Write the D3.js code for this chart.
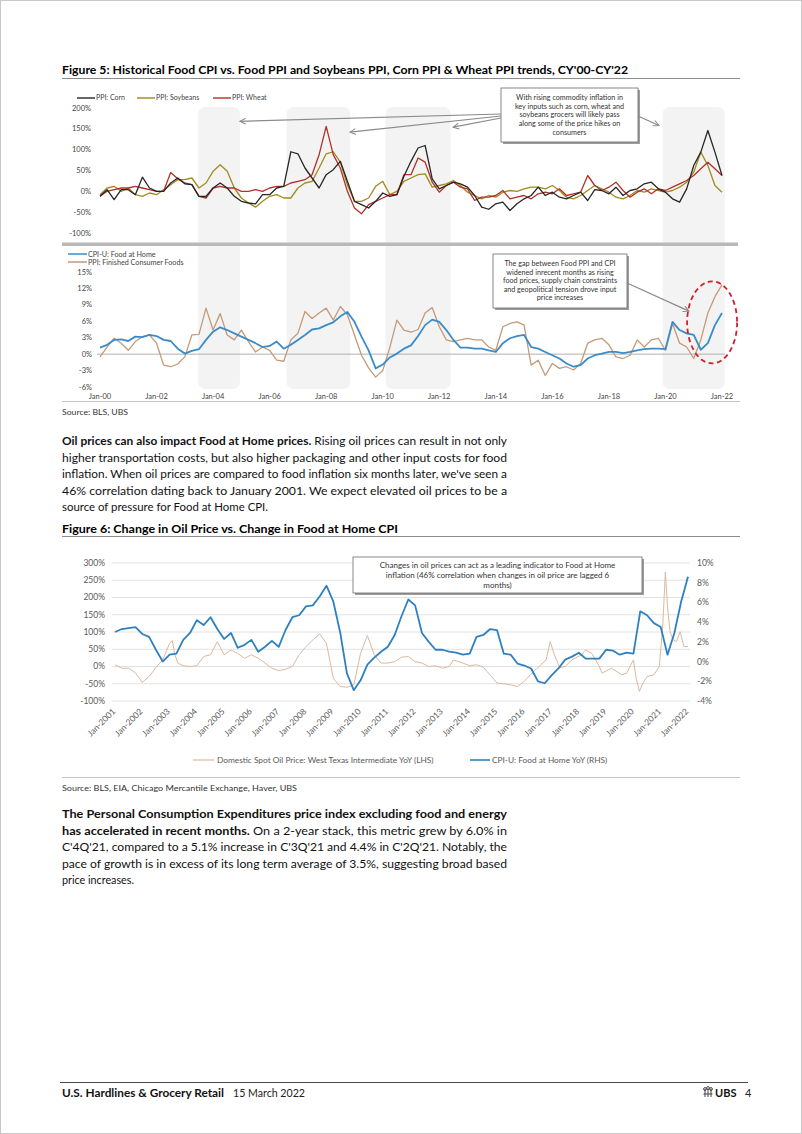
<!DOCTYPE html>
<html><head><meta charset="utf-8">
<script src="https://cdn.jsdelivr.net/npm/d3@7"></script>
<style>
body{margin:0;background:#fff}
svg{display:block}
text{font-family:Lato,"Noto Sans",sans-serif}
</style></head>
<body><svg id="page" width="802" height="1134"></svg>
<script>
// ---------------- DATA ----------------
// Figure 5 (quarterly, Jan-2000 .. Jan-2022)
const fig5Start = 2000, fig5End = 2022;
const ppiCorn = [-12,4,-20,4, 4,-8,34,8, 0,0,20,32, 18,16,-12,-12, 8,20,8,-12, -24,-28,-30,-8, -8,8,12,95, 90,56,32,8, 40,52,72,24, -24,-32,-40,-24, -4,-12,-8,36, 72,104,110,30, 6,14,22,18, 10,-10,-38,-43, -30,-26,-46,-30, -18,-10,10,-10, -2,-14,-18,-10, -2,-22,4,2, -6,10,-10,2, 6,18,22,6, -2,-18,-26,6, 62,94,146,94, 38];
const ppiSoybeans = [-8,8,12,0, 8,-8,-12,-4, -8,4,16,28, 28,32,8,20, 48,64,48,8, -16,-28,-38,-24, -12,-8,-16,-16, 8,20,24,56, 90,95,70,15, -24,-24,-16,12, 24,-8,0,24, 32,40,42,10, 14,18,26,14, -2,-10,-18,-10, -14,-2,2,0, 6,10,10,6, 14,2,-14,-18, -10,2,14,6, -2,-14,-18,-10, 2,-2,6,2, -2,2,10,22, 46,94,62,14, -2];
const ppiWheat = [-12,0,4,8, 8,12,8,4, 0,0,45,30, 20,16,-12,-16, 8,12,8,8, 0,0,4,0, 8,12,12,20, 24,28,40,88, 156,88,56,0, -40,-54,-32,-24, -16,-8,-8,40, 40,80,70,22, -2,14,22,10, 6,-22,-14,-14, -10,2,-18,-14, -10,-18,-6,-2, -6,6,-10,-6, -2,38,14,2, 10,22,2,-14, -2,6,-6,6, 2,10,18,26, 38,54,70,54, 38];
const cpiFoodHome = [1.2,1.7,2.6,2.7, 2.4,3.2,3.1,3.5, 3.3,2.6,2.4,1.0, 0.1,0.6,0.9,2.6, 4.1,4.9,4.4,3.8, 3.2,2.6,2.0,1.3, 1.5,2.3,1.0,1.7, 2.6,3.5,4.5,4.7, 5.3,5.8,6.9,7.7, 5.9,3.2,0.7,-2.6, -1.9,-0.6,0.1,1.0, 1.6,3.3,5.3,6.3, 5.9,4.4,2.6,1.2, 1.2,1.0,1.0,0.7, 0.4,2.0,2.9,3.3, 3.5,1.3,1.0,0.4, -0.2,-0.8,-1.7,-2.3, -2.0,-0.8,-0.2,0.1, 0.4,0.4,0.2,0.4, 0.7,0.9,1.0,1.0, 0.9,5.9,4.4,3.8, 3.5,0.8,2.0,5.3, 7.5];
const ppiFinishedFoods = [-0.5,1.3,2.9,2.0, 0.7,2.3,3.2,3.5, 2.0,-2.0,-2.3,-1.8, -0.5,3.5,3.6,8.4, 4.4,7.4,3.5,2.6, 4.4,2.3,0.4,1.3, 0.7,-1.1,-1.3,2.6, 3.8,7.8,6.5,7.5, 8.4,6.2,8.7,7.2, 3.5,-0.2,-2.5,-4.2, -3.0,1.2,6.2,4.4, 4.0,4.5,7.5,8.5, 5.0,2.6,2.3,2.6, 2.9,2.6,2.6,1.3, 0.7,5.0,5.6,5.9, 5.3,-2.0,-1.1,-3.9, -1.7,-2.6,-2.3,-2.9, -1.7,2.0,2.6,2.9, 1.7,-0.5,-0.8,-0.2, 2.6,1.3,2.6,2.9, 0.7,5.6,2.0,1.3, -0.8,2.6,7.5,10.5, 12.7];
const shadedStart = [2003.47, 2006.6, 2010.1, 2019.9];
const shadedEnd   = [2004.95, 2008.85, 2012.4, 2022.1];
const topTicks = [200,150,100,50,0,-50,-100];
const bottomTicks = [15,12,9,6,3,0,-3,-6];
const fig5XLabels = ["Jan-00","Jan-02","Jan-04","Jan-06","Jan-08","Jan-10","Jan-12","Jan-14","Jan-16","Jan-18","Jan-20","Jan-22"];
const fig5XYears  = [2000,2002,2004,2006,2008,2010,2012,2014,2016,2018,2020,2022];

// Figure 6
const cpiFoodHomeYoY = [3.0,3.3,3.4,3.5, 2.8,2.5,1.2,0.0, 0.7,0.8,2.2,2.9, 4.2,3.7,4.5,3.3, 2.3,2.9,1.4,1.7, 2.2,1.0,1.5,2.1, 1.5,3.2,4.5,4.7, 5.6,5.7,6.6,7.7, 6.1,3.0,-1.2,-2.9, -1.9,-0.3,0.4,1.0, 1.5,2.7,4.6,6.3, 5.7,2.9,2.0,1.2, 1.2,1.0,0.9,0.7, 0.8,2.5,2.7,3.3, 3.2,0.8,0.7,-0.2, -0.4,-0.7,-2.0,-2.2, -1.4,-0.7,0.2,0.5, 0.9,0.3,0.3,0.3, 1.2,1.1,0.7,0.9, 0.8,5.1,4.7,3.9, 3.5,0.7,2.9,6.1, 8.6];
const wtiOilYoY = [[2001.0,5],[2001.25,-5],[2001.5,-5],[2001.75,-19],[2002.0,-46],[2002.25,-29],[2002.5,-3],[2002.75,19],[2003.0,67],[2003.1,75],[2003.18,38],[2003.3,10],[2003.5,2],[2003.75,0],[2004.0,2],[2004.25,29],[2004.5,34],[2004.75,72],[2005.0,34],[2005.25,48],[2005.5,38],[2005.75,24],[2006.0,34],[2006.25,24],[2006.5,10],[2006.75,-5],[2007.0,-12],[2007.25,-8],[2007.5,0],[2007.75,34],[2008.0,58],[2008.25,77],[2008.5,94],[2008.75,67],[2009.0,-34],[2009.25,-58],[2009.5,-60],[2009.75,-54],[2010.0,38],[2010.25,90],[2010.5,34],[2010.75,10],[2011.0,10],[2011.25,14],[2011.5,27],[2011.75,29],[2012.0,14],[2012.25,10],[2012.5,0],[2012.75,2],[2013.0,-5],[2013.25,0],[2013.4,19],[2013.75,10],[2014.0,2],[2014.25,5],[2014.5,-2],[2014.63,-14],[2014.8,-29],[2015.0,-48],[2015.25,-50],[2015.5,-53],[2015.75,-58],[2016.0,-43],[2016.22,-24],[2016.5,-3],[2016.8,19],[2016.95,72],[2017.1,34],[2017.3,-3],[2017.5,0],[2017.74,19],[2018.1,34],[2018.25,48],[2018.47,38],[2018.72,5],[2018.85,-19],[2019.2,-5],[2019.57,-24],[2019.76,-19],[2019.87,0],[2020.0,19],[2020.1,-34],[2020.22,-72],[2020.35,-48],[2020.5,-29],[2020.75,-24],[2020.95,0],[2021.08,125],[2021.17,274],[2021.25,173],[2021.34,101],[2021.46,77],[2021.58,72],[2021.71,101],[2021.85,58],[2022.0,58]];
const leftTicks6 = [300,250,200,150,100,50,0,-50,-100];
const rightTicks6 = [10,8,6,4,2,0,-2,-4];
const fig6XYears = d3.range(2001, 2023);

// ---------------- HELPERS ----------------
const svg = d3.select("#page");
function fit(sel, w){ sel.attr("textLength", w).attr("lengthAdjust","spacingAndGlyphs"); return sel; }
const defs = svg.append("defs");
defs.append("marker").attr("id","arr").attr("viewBox","0 0 10 10").attr("refX",9).attr("refY",5)
  .attr("markerWidth",6).attr("markerHeight",6).attr("orient","auto")
  .append("path").attr("d","M1,1 L9,5 L1,9").attr("fill","none").attr("stroke","#8a8a8a").attr("stroke-width",1.4);

svg.append("rect").attr("x",0.5).attr("y",0.5).attr("width",801).attr("height",1133).attr("fill","#fff").attr("stroke","#c8c8c8");

function annBox(x,y,w,h,lines,fs,lh,ty){
  svg.append("rect").attr("x",x+2).attr("y",y+2).attr("width",w).attr("height",h).attr("fill","#9d9d9d");
  svg.append("rect").attr("x",x).attr("y",y).attr("width",w).attr("height",h).attr("fill","#fff").attr("stroke","#6a6a6a").attr("stroke-width",0.8);
  lines.forEach((l,i)=>svg.append("text").attr("x",x+w/2).attr("y",ty+i*lh).attr("text-anchor","middle")
    .attr("font-size",fs).attr("fill","#333").text(l));
}

// ---------------- FIGURE 5 ----------------
fit(svg.append("text").attr("x",62).attr("y",74).attr("font-size",12).attr("font-weight",700).attr("fill","#000")
  .text("Figure 5: Historical Food CPI vs. Food PPI and Soybeans PPI, Corn PPI & Wheat PPI trends, CY'00-CY'22"),566);
svg.append("line").attr("x1",62).attr("x2",740).attr("y1",78.5).attr("y2",78.5).attr("stroke","#8c8c8c");

const q5 = ppiCorn.map((_,i)=>fig5Start+i*0.25);
const x5 = d3.scaleLinear().domain([fig5Start,fig5End]).range([100,722]);
const yTop = d3.scaleLinear().domain([-100,200]).range([233,108]);
const yBot = d3.scaleLinear().domain([-6,15]).range([387,272]);

// shaded periods
shadedStart.forEach((s,i)=>{
  svg.append("rect").attr("x",x5(s)).attr("width",x5(shadedEnd[i])-x5(s)).attr("y",107).attr("height",282)
    .attr("rx",7).attr("fill","#f3f3f3");
});
// separator bar
svg.append("rect").attr("x",62).attr("y",242.5).attr("width",676).attr("height",3.5).attr("fill","#b9b9b9");

// top panel axis labels
topTicks.forEach(t=>svg.append("text").attr("x",91).attr("y",yTop(t)).attr("dy","0.35em").attr("text-anchor","end")
  .attr("font-size",7.5).attr("fill","#444").text(t+"%"));

const lineTop = d3.line().x((d,i)=>x5(q5[i])).y(d=>yTop(d));
svg.append("path").datum(ppiSoybeans).attr("d",lineTop).attr("fill","none").attr("stroke","#a08c1e").attr("stroke-width",1.3).attr("stroke-linejoin","round");
svg.append("path").datum(ppiWheat).attr("d",lineTop).attr("fill","none").attr("stroke","#b3302a").attr("stroke-width",1.3).attr("stroke-linejoin","round");
svg.append("path").datum(ppiCorn).attr("d",lineTop).attr("fill","none").attr("stroke","#262626").attr("stroke-width",1.3).attr("stroke-linejoin","round");

// top legend
[["PPI: Corn","#262626",77],["PPI: Soybeans","#a08c1e",137],["PPI: Wheat","#b3302a",213]].forEach(([n,c,lx])=>{
  svg.append("line").attr("x1",lx).attr("x2",lx+18).attr("y1",98).attr("y2",98).attr("stroke",c).attr("stroke-width",1.4);
  svg.append("text").attr("x",lx+19).attr("y",98).attr("dy","0.35em").attr("font-size",7).attr("fill","#444").text(n);
});

// annotation 1
annBox(501,88,137,54,["With rising commodity inflation in","key inputs such as corn, wheat and","soybeans grocers will likely pass","along some of the price hikes on","consumers"],7.2,8.7,100);
[[501,114,2004.95,168],[501,116,2008.84,142],[501,118,2012.49,154],[638,116,2019.77,158]].forEach(([sx,sy,tx,tv])=>{
  svg.append("line").attr("x1",sx).attr("y1",sy).attr("x2",x5(tx)).attr("y2",yTop(tv)).attr("stroke","#8a8a8a").attr("stroke-width",1.2).attr("marker-end","url(#arr)");
});

// bottom panel
svg.append("line").attr("x1",97).attr("x2",725).attr("y1",yBot(0)).attr("y2",yBot(0)).attr("stroke","#b0b0b0");
bottomTicks.forEach(t=>svg.append("text").attr("x",92).attr("y",yBot(t)).attr("dy","0.35em").attr("text-anchor","end")
  .attr("font-size",7.5).attr("fill","#444").text(t+"%"));
const lineBot = d3.line().x((d,i)=>x5(q5[i])).y(d=>yBot(d));
svg.append("path").datum(ppiFinishedFoods).attr("d",lineBot).attr("fill","none").attr("stroke","#c49a78").attr("stroke-width",1.3).attr("stroke-linejoin","round");
svg.append("path").datum(cpiFoodHome).attr("d",lineBot).attr("fill","none").attr("stroke","#3a8cc9").attr("stroke-width",1.8).attr("stroke-linejoin","round");
[["CPI-U: Food at Home","#3a8cc9",254],["PPI: Finished Consumer Foods","#c49a78",262]].forEach(([n,c,ly])=>{
  svg.append("line").attr("x1",68).attr("x2",87).attr("y1",ly).attr("y2",ly).attr("stroke",c).attr("stroke-width",1.5);
  svg.append("text").attr("x",88).attr("y",ly).attr("dy","0.35em").attr("font-size",7.2).attr("fill","#444").text(n);
});
fig5XLabels.forEach((l,i)=>svg.append("text").attr("x",x5(fig5XYears[i])).attr("y",396).attr("dy","0.35em").attr("text-anchor","middle")
  .attr("font-size",7.5).attr("fill","#444").text(l));

annBox(493,254,134,54,["The gap between Food PPI and CPI","widened inrecent months as rising","food prices, supply chain constraints","and geopolitical tension drove input","price increases"],7.2,8.5,266);
svg.append("line").attr("x1",627).attr("y1",283).attr("x2",x5(2020.83)).attr("y2",yBot(7.85)).attr("stroke","#8a8a8a").attr("stroke-width",1.2).attr("marker-end","url(#arr)");
svg.append("ellipse").attr("cx",x5(2021.65)).attr("cy",yBot(5.8)).attr("rx",25).attr("ry",41)
  .attr("fill","none").attr("stroke","#d0202a").attr("stroke-width",1.8).attr("stroke-dasharray","5,3.5");

svg.append("line").attr("x1",62).attr("x2",740).attr("y1",401.5).attr("y2",401.5).attr("stroke","#c4c4c4");
fit(svg.append("text").attr("x",62).attr("y",415).attr("font-size",8).attr("fill","#333").text("Source: BLS, UBS"),66);

// ---------------- PARAGRAPH 1 ----------------
function para(lines, y0, lh){
  lines.forEach((ln,i)=>{
    const t = svg.append("text").attr("x",62).attr("y",y0+i*lh).attr("font-size",11.5).attr("fill","#111");
    ln.parts.forEach(p=>t.append("tspan").attr("font-weight",p[1]?700:400).text(p[0]));
    fit(t, ln.w);
  });
}
para([
 {parts:[["Oil prices can also impact Food at Home prices.",1],[" Rising oil prices can result in not only",0]],w:445},
 {parts:[["higher transportation costs, but also higher packaging and other input costs for food",0]],w:445},
 {parts:[["inflation. When oil prices are compared to food inflation six months later, we've seen a",0]],w:445},
 {parts:[["46% correlation dating back to January 2001. We expect elevated oil prices to be a",0]],w:445},
 {parts:[["source of pressure for Food at Home CPI.",0]],w:206}
], 445, 16.5);

// ---------------- FIGURE 6 ----------------
fit(svg.append("text").attr("x",62).attr("y",533).attr("font-size",12).attr("font-weight",700).attr("fill","#000")
  .text("Figure 6: Change in Oil Price vs. Change in Food at Home CPI"),336);
svg.append("line").attr("x1",62).attr("x2",740).attr("y1",536.5).attr("y2",536.5).attr("stroke","#8c8c8c");

const x6 = d3.scaleLinear().domain([2001,2022]).range([115,688]);
const yL = d3.scaleLinear().domain([-100,300]).range([701,563]);
const yR = d3.scaleLinear().domain([-4,10]).range([701,563]);
leftTicks6.forEach(t=>{
  svg.append("line").attr("x1",112).attr("x2",690).attr("y1",yL(t)).attr("y2",yL(t)).attr("stroke","#e2e2e2");
  svg.append("text").attr("x",105).attr("y",yL(t)).attr("dy","0.35em").attr("text-anchor","end").attr("font-size",8.5).attr("fill","#595959").text(t+"%");
});
rightTicks6.forEach(t=>svg.append("text").attr("x",697).attr("y",yR(t)).attr("dy","0.35em").attr("font-size",8.5).attr("fill","#595959").text(t+"%"));
fig6XYears.forEach(yv=>svg.append("text").attr("transform",`translate(${x6(yv)+1},712) rotate(-45)`).attr("text-anchor","end")
  .attr("font-size",8.5).attr("fill","#595959").text("Jan-"+yv));

const q6 = cpiFoodHomeYoY.map((_,i)=>2001+i*0.25);
svg.append("path").datum(wtiOilYoY).attr("d",d3.line().x(d=>x6(d[0])).y(d=>yL(d[1]))).attr("fill","none").attr("stroke","#dcb89d").attr("stroke-width",1).attr("stroke-linejoin","round");
svg.append("path").datum(cpiFoodHomeYoY).attr("d",d3.line().x((d,i)=>x6(q6[i])).y(d=>yR(d))).attr("fill","none").attr("stroke","#2f80bf").attr("stroke-width",1.8).attr("stroke-linejoin","round");

annBox(353,557,289,36,["Changes in oil prices can act as a leading indicator to Food at Home","inflation (46% correlation when changes in oil price are lagged 6","months)"],8,10.2,568);

// legend fig 6
svg.append("line").attr("x1",193).attr("x2",214).attr("y1",760).attr("y2",760).attr("stroke","#dcb89d").attr("stroke-width",1.2);
svg.append("text").attr("x",217).attr("y",760).attr("dy","0.35em").attr("font-size",8.3).attr("fill","#595959").text("Domestic Spot Oil Price: West Texas Intermediate YoY (LHS)");
svg.append("line").attr("x1",470).attr("x2",490).attr("y1",760).attr("y2",760).attr("stroke","#2f80bf").attr("stroke-width",1.6);
svg.append("text").attr("x",492).attr("y",760).attr("dy","0.35em").attr("font-size",8.3).attr("fill","#595959").text("CPI-U: Food at Home YoY (RHS)");

svg.append("line").attr("x1",62).attr("x2",740).attr("y1",777.5).attr("y2",777.5).attr("stroke","#c4c4c4");
fit(svg.append("text").attr("x",62).attr("y",791).attr("font-size",8).attr("fill","#333").text("Source: BLS, EIA, Chicago Mercantile Exchange, Haver, UBS"),235);

// ---------------- PARAGRAPH 2 ----------------
para([
 {parts:[["The Personal Consumption Expenditures price index excluding food and energy",1]],w:445},
 {parts:[["has accelerated in recent months.",1],[" On a 2-year stack, this metric grew by 6.0% in",0]],w:445},
 {parts:[["C'4Q'21, compared to a 5.1% increase in C'3Q'21 and 4.4% in C'2Q'21. Notably, the",0]],w:445},
 {parts:[["pace of growth is in excess of its long term average of 3.5%, suggesting broad based",0]],w:445},
 {parts:[["price increases.",0]],w:72}
], 818, 16.5);

// ---------------- FOOTER ----------------
svg.append("line").attr("x1",60).attr("x2",748).attr("y1",1082.5).attr("y2",1082.5).attr("stroke","#333").attr("stroke-width",0.9);
fit(svg.append("text").attr("x",62).attr("y",1097).attr("font-size",11).attr("font-weight",700).attr("fill","#111").text("U.S. Hardlines & Grocery Retail"),162);
fit(svg.append("text").attr("x",233).attr("y",1097).attr("font-size",11).attr("fill","#222").text("15 March 2022"),72);
const logo = svg.append("g").attr("transform","translate(708,1093)").attr("stroke","#333").attr("fill","none").attr("stroke-width",0.9);
[-3,0,3].forEach(dx=>{logo.append("line").attr("x1",dx).attr("x2",dx).attr("y1",-4).attr("y2",4);});
[[-3,-4],[0,-5],[3,-4]].forEach(([cx,cy])=>logo.append("circle").attr("cx",cx).attr("cy",cy).attr("r",1.4));
logo.append("line").attr("x1",-4.5).attr("x2",4.5).attr("y1",1).attr("y2",1);
svg.append("text").attr("x",715).attr("y",1097).attr("font-size",11).attr("font-weight",700).attr("font-family","'Liberation Serif','DejaVu Serif',serif").attr("fill","#111").text("UBS");
svg.append("text").attr("x",745).attr("y",1097).attr("font-size",11).attr("fill","#222").text("4");
</script></body></html>
